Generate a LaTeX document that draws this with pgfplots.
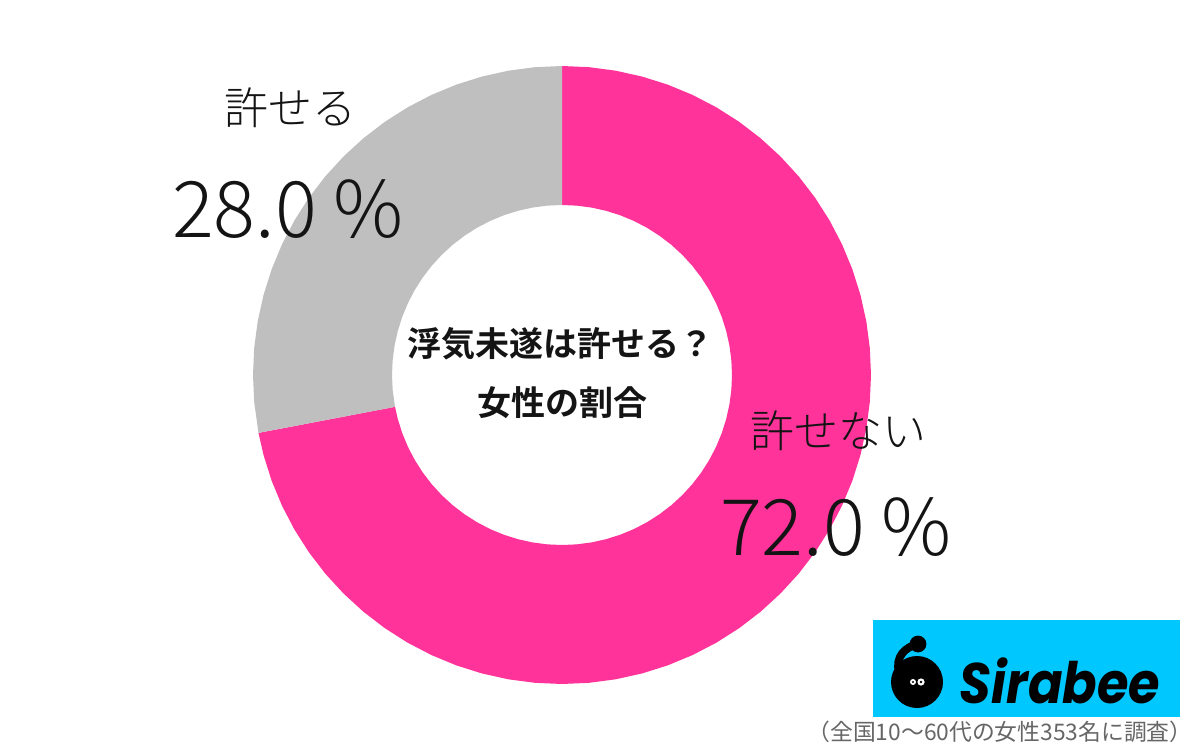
\documentclass[border=0pt]{standalone}
\usepackage{pgfplots}
\pgfplotsset{compat=1.18}
\usepackage{graphicx}
\usepackage{fontspec}
\setmainfont{Noto Sans CJK JP}[BoldFont={Noto Sans CJK JP Bold}]
\newfontfamily\lightfont{Noto Sans CJK JP Light}
\newfontfamily\logofont{Poppins}[BoldFont={Poppins Bold},BoldItalicFont={Poppins Bold Italic}]
\definecolor{pinkc}{RGB}{255,51,153}
\definecolor{grayc}{RGB}{191,191,191}
\definecolor{logoc}{RGB}{0,200,255}
\definecolor{txt}{RGB}{20,20,20}
\begin{document}
\begin{tikzpicture}
\begin{axis}[
  scale only axis, width=600pt, height=373pt,
  xmin=-562, xmax=638, ymin=-371, ymax=375,
  hide axis, clip=false]
% 72.0 % : from 90 deg clockwise 259.2 deg
\addplot[data cs=polar, fill=pinkc, draw=none] coordinates {
(90,309)(85,309)(80,309)(75,309)(70,309)(65,309)(60,309)(55,309)(50,309)(45,309)(40,309)(35,309)(30,309)(25,309)(20,309)(15,309)(10,309)(5,309)(0,309)
(-5,309)(-10,309)(-15,309)(-20,309)(-25,309)(-30,309)(-35,309)(-40,309)(-45,309)(-50,309)(-55,309)(-60,309)(-65,309)(-70,309)(-75,309)(-80,309)(-85,309)(-90,309)
(-95,309)(-100,309)(-105,309)(-110,309)(-115,309)(-120,309)(-125,309)(-130,309)(-135,309)(-140,309)(-145,309)(-150,309)(-155,309)(-160,309)(-165,309)(-169.2,309)
(-169.2,170)(-165,170)(-160,170)(-155,170)(-150,170)(-145,170)(-140,170)(-135,170)(-130,170)(-125,170)(-120,170)(-115,170)(-110,170)(-105,170)(-100,170)(-95,170)
(-90,170)(-85,170)(-80,170)(-75,170)(-70,170)(-65,170)(-60,170)(-55,170)(-50,170)(-45,170)(-40,170)(-35,170)(-30,170)(-25,170)(-20,170)(-15,170)(-10,170)(-5,170)
(0,170)(5,170)(10,170)(15,170)(20,170)(25,170)(30,170)(35,170)(40,170)(45,170)(50,170)(55,170)(60,170)(65,170)(70,170)(75,170)(80,170)(85,170)(90,170)
} -- cycle;
% 28.0 %
\addplot[data cs=polar, fill=grayc, draw=none] coordinates {
(90,309)(95,309)(100,309)(105,309)(110,309)(115,309)(120,309)(125,309)(130,309)(135,309)(140,309)(145,309)(150,309)(155,309)(160,309)(165,309)(170,309)(175,309)(180,309)(185,309)(190.8,309)
(190.8,170)(185,170)(180,170)(175,170)(170,170)(165,170)(160,170)(155,170)(150,170)(145,170)(140,170)(135,170)(130,170)(125,170)(120,170)(115,170)(110,170)(105,170)(100,170)(95,170)(90,170)
} -- cycle;
\node[font=\lightfont\fontsize{22}{22}\selectfont, text=txt] at (axis cs:-272,267) {許せる};
\node[font=\lightfont\fontsize{39}{39}\selectfont, text=txt] at (axis cs:-274,166) {28.0 \%};
\node[font=\lightfont\fontsize{22}{22}\selectfont, text=txt] at (axis cs:276,-56) {許せない};
\node[font=\lightfont\fontsize{39}{39}\selectfont, text=txt] at (axis cs:274,-152) {72.0 \%};
\node[font=\bfseries\fontsize{17}{17}\selectfont, text=txt] at (axis cs:-2,31) {浮気未遂は許せる？};
\node[font=\bfseries\fontsize{17}{17}\selectfont, text=txt] at (axis cs:0,-28) {女性の割合};
\node[font=\fontsize{11.4}{11.4}\selectfont, text=black!60, inner sep=0pt] at (axis cs:438,-357) {（全国10～60代の女性353名に調査）};
% logo
\fill[logoc] (axis cs:311,-245) rectangle (axis cs:618,-342);
\fill[black] (axis cs:355,-307) circle[radius=13pt];
\fill[black] (axis cs:356,-269) circle[radius=4.2pt];
\draw[black, line width=4pt] (axis cs:356,-269) .. controls (axis cs:343,-272) and (axis cs:333,-282) .. (axis cs:337,-297);
\fill[white] (axis cs:351,-307) circle[radius=1.5pt];
\fill[white] (axis cs:359,-307) circle[radius=1.8pt];
\fill[black] (axis cs:351,-307) circle[radius=.6pt];
\fill[black] (axis cs:359,-307) circle[radius=.7pt];
\node[font=\logofont\bfseries\itshape\fontsize{25.5}{25.5}\selectfont, text=black] at (axis cs:498,-306) {\scalebox{1}[1.12]{Sirabee}};
\path[use as bounding box] (axis cs:-562,-371) rectangle (axis cs:638,375);
\end{axis}
\end{tikzpicture}
\end{document}
